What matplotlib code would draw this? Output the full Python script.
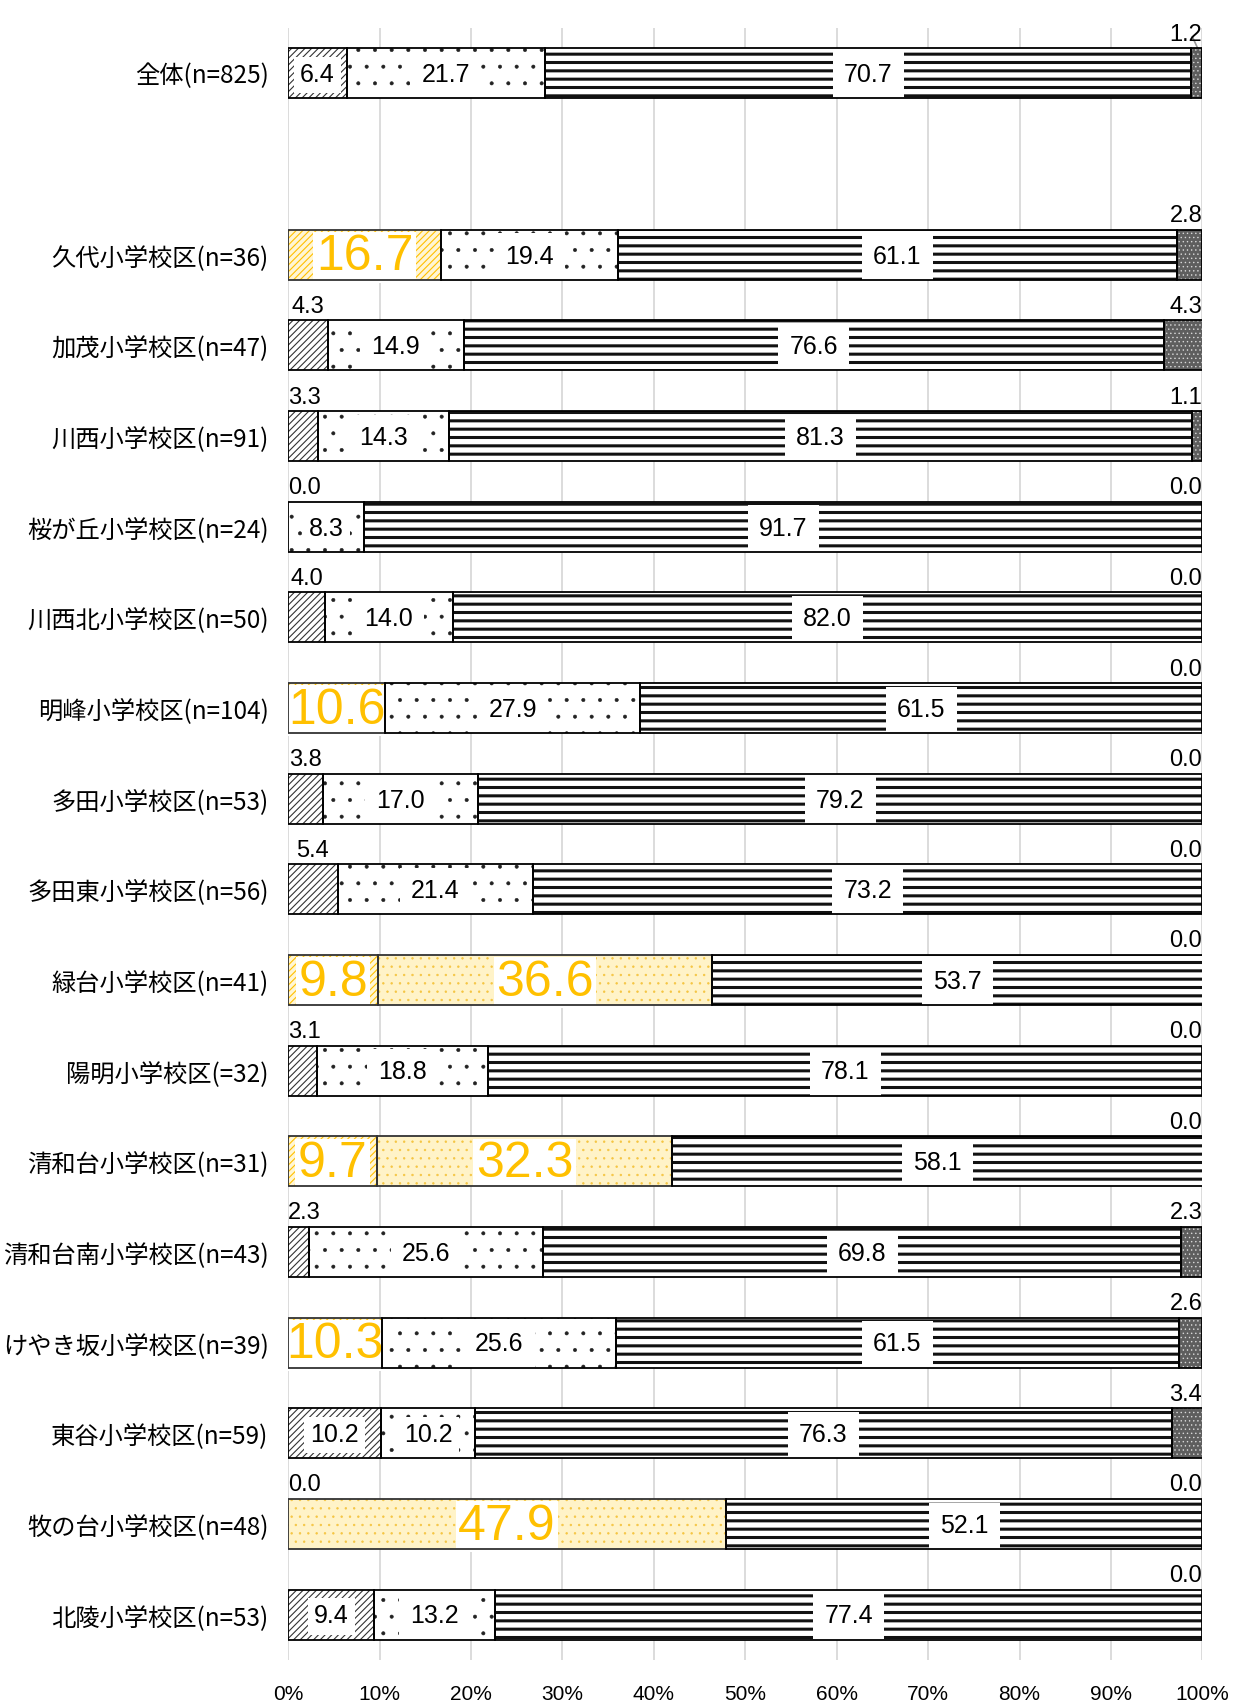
import matplotlib
matplotlib.use("Agg")
import matplotlib.pyplot as plt
import numpy as np

# rows top to bottom ("全体" is followed by one empty slot)
CATS = ["全体(n=825)", "久代小学校区(n=36)", "加茂小学校区(n=47)", "川西小学校区(n=91)",
        "桜が丘小学校区(n=24)", "川西北小学校区(n=50)", "明峰小学校区(n=104)",
        "多田小学校区(n=53)", "多田東小学校区(n=56)", "緑台小学校区(n=41)",
        "陽明小学校区(=32)", "清和台小学校区(n=31)", "清和台南小学校区(n=43)",
        "けやき坂小学校区(n=39)", "東谷小学校区(n=59)", "牧の台小学校区(n=48)",
        "北陵小学校区(n=53)"]
SEG_A = [6.4, 16.7, 4.3, 3.3, 0.0, 4.0, 10.6, 3.8, 5.4, 9.8, 3.1, 9.7, 2.3, 10.3, 10.2, 0.0, 9.4]
SEG_B = [21.7, 19.4, 14.9, 14.3, 8.3, 14.0, 27.9, 17.0, 21.4, 36.6, 18.8, 32.3, 25.6, 25.6, 10.2, 47.9, 13.2]
SEG_C = [70.7, 61.1, 76.6, 81.3, 91.7, 82.0, 61.5, 79.2, 73.2, 53.7, 78.1, 58.1, 69.8, 61.5, 76.3, 52.1, 77.4]
SEG_D = [1.2, 2.8, 4.3, 1.1, 0.0, 0.0, 0.0, 0.0, 0.0, 0.0, 0.0, 0.0, 2.3, 2.6, 3.4, 0.0, 0.0]
# highlighted cells: (row, segment index)
HILITE = [(1, 0), (6, 0), (9, 0), (9, 1), (11, 0), (11, 1), (13, 0), (15, 1)]

SEGS = [SEG_A, SEG_B, SEG_C, SEG_D]
YPOS = np.array([0] + list(range(2, len(CATS) + 1)))
H = 0.55
YEL = "#FFC000"
NUM_FONT = ["Liberation Sans", "DejaVu Sans"]

# (facecolor, hatch, hatch colour, hatch lw)
STYLE = [("white", "/////", "#333333", 0.8),
         ("white", ".", "#222222", 0.4),
         ("white", "--", "#111111", 2.2),
         ("#5e5e5e", "....", "#d8d8d8", 0.5)]
HSTYLE = [("#FFF6D5", "/////", YEL, 0.8),
          ("#FFF3C8", "..", "#F5C542", 0.5)]

plt.rcParams["font.family"] = ["Noto Sans CJK JP", "DejaVu Sans"]
fig = plt.figure(figsize=(12.37, 17.02), dpi=100)
ax = fig.add_axes([0.233, 0.0247, 0.739, 0.9588])

left = np.zeros(len(CATS))
hl = set(HILITE)
for k, seg in enumerate(SEGS):
    vals = np.array(seg)
    for i in range(len(CATS)):
        if (i, k) in hl:
            fc, hatch, hc, hlw = HSTYLE[k]
        else:
            fc, hatch, hc, hlw = STYLE[k]
        if vals[i] > 0:
            with plt.rc_context({"hatch.linewidth": hlw}):
                ax.barh(YPOS[i], vals[i], H, left=left[i], color=fc, hatch=hatch,
                        edgecolor=hc, lw=0, zorder=2)
            # outline drawn above the label boxes
            ax.barh(YPOS[i], vals[i], H, left=left[i], fill=False,
                    edgecolor="#333333" if (i, k) in hl else "black", lw=1.3, zorder=6)
        cx = left[i] + vals[i] / 2
        txt = f"{vals[i]:.1f}"
        if (i, k) in hl:
            ax.text(cx, YPOS[i] + 0.03, txt, ha="center", va="center", fontsize=36,
                    color=YEL, family=NUM_FONT, zorder=5,
                    bbox=dict(boxstyle="square,pad=0.05", fc="white", ec="none"))
        elif k == 3:
            ax.text(98.2, YPOS[i] - H / 2 - 0.15, txt, ha="center", va="center",
                    fontsize=17, family=NUM_FONT, zorder=5)
        elif k == 0 and vals[i] < 6:
            ax.text(max(vals[i] / 2, 1.8), YPOS[i] - H / 2 - 0.15, txt, ha="center",
                    va="center", fontsize=17, family=NUM_FONT, zorder=5)
        else:
            pad = 0.45 if vals[i] > 12 else 0.25
            ax.text(cx, YPOS[i] + 0.02, txt, ha="center", va="center", fontsize=18,
                    family=NUM_FONT, zorder=5,
                    bbox=dict(boxstyle=f"square,pad={pad}", fc="white", ec="none"))
    left += vals

# leader line for the small "全体" remainder label
ax.plot([98.9, 99.5], [YPOS[0] - H / 2 - 0.13, YPOS[0] - H / 2], color="#999999", lw=1.2, zorder=4)

ax.set_xlim(0, 100)
ax.set_ylim(YPOS[-1] + 0.5, -0.5)
ax.set_yticks(YPOS)
ax.set_yticklabels(CATS, fontsize=17.5)
ax.set_xticks(np.arange(0, 101, 10))
ax.set_xticklabels([f"{v}%" for v in range(0, 101, 10)], fontsize=15,
                   family=["Liberation Sans Narrow", "Liberation Sans", "DejaVu Sans"])
ax.tick_params(axis="both", length=0)
ax.tick_params(axis="x", pad=18)
ax.tick_params(axis="y", pad=14)
ax.grid(axis="x", color="#d9d9d9", lw=1.3)
ax.set_axisbelow(True)
for s in ax.spines.values():
    s.set_visible(False)

fig.savefig("out.png", dpi=100)
